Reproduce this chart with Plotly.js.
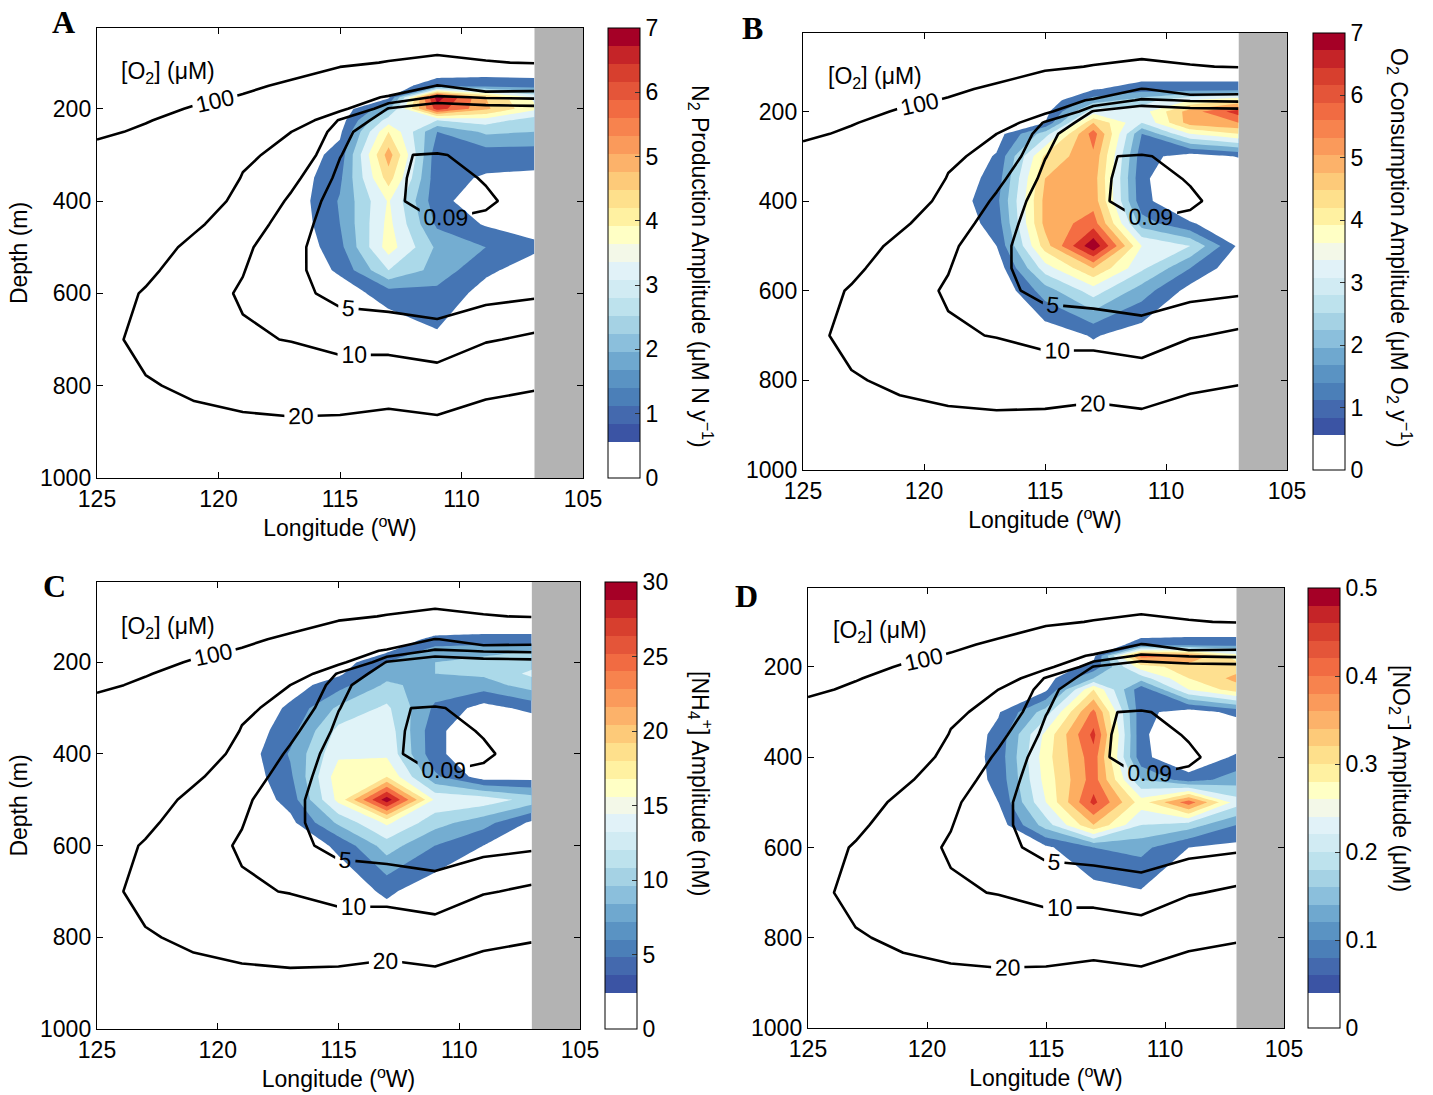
<!DOCTYPE html>
<html>
<head>
<meta charset="utf-8">
<script src="https://cdn.plot.ly/plotly-3.0.1.min.js"></script>
<style>
  html, body { margin: 0; padding: 0; background: #ffffff; }
  #chart { width: 1433px; height: 1095px; }
</style>
</head>
<body>
<div id="chart"></div>
<script>
// ---- section grid ----
const lonGrid = [125, 123, 121, 119, 117, 115, 113, 111, 109, 107];
const depthGrid = [25, 100, 150, 175, 200, 225, 250, 300, 350, 400, 450, 500, 550, 600, 700, 800, 900, 1000];

// dissolved oxygen (uM), rows = depth, columns = longitude
const o2Conc = [
  [200, 190, 180, 170, 160, 150, 140, 135, 130, 125],
  [180, 170, 150, 135, 120, 108, 98, 90, 98, 102],
  [160, 145, 125, 108, 93, 65, 50, 19, 30, 28],
  [150, 130, 110, 97, 70, 40, 16, 9, 10.5, 11],
  [135, 115, 96, 85, 45, 23, 4.5, 1.0, 2.5, 3],
  [122, 103, 83, 70, 30, 9, 2.5, 0.8, 1.2, 1.5],
  [110, 92, 70, 55, 20, 6.5, 1.0, 0.5, 0.6, 0.9],
  [80, 65, 50, 23, 15, 5.2, 0.12, 0.06, 0.2, 0.4],
  [60, 50, 38, 19, 11.5, 3.8, 0.12, 0.04, 0.1, 0.25],
  [45, 38, 28, 16, 9, 2.5, 0.12, 0.03, 0.07, 0.15],
  [38, 31, 22, 13, 7.5, 2.0, 0.3, 0.1, 0.12, 0.25],
  [33, 26, 17, 11, 6.5, 1.6, 0.6, 0.2, 0.3, 0.5],
  [30, 22.5, 14, 10.2, 6.2, 2.3, 1.5, 0.9, 1.2, 1.8],
  [26, 19, 12, 9.5, 6.5, 3.5, 3, 2.5, 3.5, 4.2],
  [26, 15, 11, 10.6, 9.8, 8.5, 8, 7, 9.5, 11],
  [29, 21.5, 17, 16, 14, 13, 14, 13, 17, 19],
  [35, 30, 26, 23, 23, 24, 26, 24, 27, 28],
  [42, 38, 34, 30, 30, 32, 34, 32, 35, 36]
];

// N2 production amplitude (uM N / y)
const n2Production = [
  [0, 0, 0, 0, 0, 0, 0, 0, 0, 0],
  [0, 0, 0, 0, 0, 0, 0, 0, 0, 0],
  [0, 0, 0, 0, 0, 0, 0.35, 1.05, 1.12, 1.05],
  [0, 0, 0, 0, 0, 0, 0.56, 7.35, 4.9, 3.36],
  [0, 0, 0, 0, 0, 0.21, 1.96, 6.65, 5.04, 3.64],
  [0, 0, 0, 0, 0, 0.35, 3.15, 2.8, 3.15, 2.45],
  [0, 0, 0, 0, 0, 0.56, 4.2, 1.4, 2.24, 2.1],
  [0, 0, 0, 0, 0.14, 0.98, 5.25, 0.91, 0.98, 0.98],
  [0, 0, 0, 0, 0.21, 1.26, 4.55, 0.91, 0.63, 0.56],
  [0, 0, 0, 0, 0.21, 1.47, 3.57, 0.91, 0.28, 0.21],
  [0, 0, 0, 0, 0.14, 1.4, 3.71, 1.26, 0.63, 0.42],
  [0, 0, 0, 0, 0, 1.19, 3.85, 1.96, 1.4, 0.84],
  [0, 0, 0, 0, 0, 0.84, 2.8, 1.82, 0.84, 0.35],
  [0, 0, 0, 0, 0, 0.28, 1.05, 1.19, 0.42, 0],
  [0, 0, 0, 0, 0, 0, 0, 0.56, 0, 0],
  [0, 0, 0, 0, 0, 0, 0, 0, 0, 0],
  [0, 0, 0, 0, 0, 0, 0, 0, 0, 0],
  [0, 0, 0, 0, 0, 0, 0, 0, 0, 0]
];

// O2 consumption amplitude (uM O2 / y)
const o2Consumption = [
  [0, 0, 0, 0, 0, 0, 0, 0, 0, 0],
  [0, 0, 0, 0, 0, 0, 0, 0, 0, 0],
  [0, 0, 0, 0, 0, 0, 0.63, 1.05, 1.05, 1.05],
  [0, 0, 0, 0, 0, 0.14, 1.75, 2.45, 3.5, 4.2],
  [0, 0, 0, 0, 0, 0.42, 3.15, 3.15, 5.25, 6.65],
  [0, 0, 0, 0, 0.14, 0.7, 4.9, 2.8, 5.25, 5.6],
  [0, 0, 0, 0, 0.35, 2.45, 5.95, 1.4, 3.5, 4.2],
  [0, 0, 0, 0, 0.77, 4.34, 5.46, 0.98, 0.35, 0.75],
  [0, 0, 0, 0.14, 0.98, 4.9, 5.25, 0.84, 0, 0],
  [0, 0, 0, 0.21, 1.19, 5.11, 5.32, 0.91, 0, 0],
  [0, 0, 0, 0.14, 0.98, 5.11, 5.95, 1.75, 0.77, 0.21],
  [0, 0, 0, 0, 0.7, 4.55, 7.56, 3.5, 2.8, 0.56],
  [0, 0, 0, 0, 0.21, 3.15, 4.9, 2.94, 1.4, 0.14],
  [0, 0, 0, 0, 0, 1.75, 3.15, 1.75, 0.42, 0],
  [0, 0, 0, 0, 0, 0.21, 0.77, 0.28, 0, 0],
  [0, 0, 0, 0, 0, 0, 0, 0, 0, 0],
  [0, 0, 0, 0, 0, 0, 0, 0, 0, 0],
  [0, 0, 0, 0, 0, 0, 0, 0, 0, 0]
];

// ammonium amplitude (nM)
const nh4Amplitude = [
  [0, 0, 0, 0, 0, 0, 0, 0, 0, 0],
  [0, 0, 0, 0, 0, 0, 0, 0, 0, 0],
  [0, 0, 0, 0, 0, 0, 1.5, 3.6, 3.9, 3.9],
  [0, 0, 0, 0, 0, 0, 2.4, 7.5, 8.4, 9],
  [0, 0, 0, 0, 0, 1.2, 6, 9, 9.6, 10.8],
  [0, 0, 0, 0, 0.6, 2.4, 7.8, 9, 9.6, 12.6],
  [0, 0, 0, 0, 1.5, 4.8, 9.6, 7.8, 7.5, 10.5],
  [0, 0, 0, 0, 3.6, 9.6, 12.6, 5.4, 1.8, 3.9],
  [0, 0, 0, 0.6, 4.8, 12.9, 13.8, 3.9, 0, 0],
  [0, 0, 0, 0.9, 6.3, 14.4, 14.4, 3.9, 0, 0],
  [0, 0, 0, 0.6, 5.4, 16.8, 18, 6.6, 1.5, 1.8],
  [0, 0, 0, 0, 4.2, 15.9, 31.8, 14.4, 13.8, 10.8],
  [0, 0, 0, 0, 2.1, 9.6, 15.6, 10.2, 7.2, 2.4],
  [0, 0, 0, 0, 0.6, 3.6, 10.5, 6, 3, 0.9],
  [0, 0, 0, 0, 0, 0.9, 3.6, 0.9, 0, 0],
  [0, 0, 0, 0, 0, 0, 0, 0, 0, 0],
  [0, 0, 0, 0, 0, 0, 0, 0, 0, 0],
  [0, 0, 0, 0, 0, 0, 0, 0, 0, 0]
];

// nitrite amplitude (uM)
const no2Amplitude = [
  [0, 0, 0, 0, 0, 0, 0, 0, 0, 0],
  [0, 0, 0, 0, 0, 0, 0, 0, 0, 0],
  [0, 0, 0, 0, 0, 0, 0.01, 0.07, 0.075, 0.075],
  [0, 0, 0, 0, 0, 0, 0.035, 0.425, 0.4, 0.275],
  [0, 0, 0, 0, 0, 0.01, 0.07, 0.275, 0.325, 0.325],
  [0, 0, 0, 0, 0, 0.025, 0.15, 0.175, 0.3, 0.365],
  [0, 0, 0, 0, 0.01, 0.04, 0.3, 0.065, 0.25, 0.325],
  [0, 0, 0, 0, 0.045, 0.175, 0.415, 0.065, 0.025, 0.065],
  [0, 0, 0, 0, 0.065, 0.265, 0.465, 0.06, 0, 0],
  [0, 0, 0, 0, 0.07, 0.28, 0.43, 0.065, 0, 0.06],
  [0, 0, 0, 0, 0.065, 0.27, 0.425, 0.15, 0.075, 0.125],
  [0, 0, 0, 0, 0.05, 0.25, 0.465, 0.275, 0.43, 0.225],
  [0, 0, 0, 0, 0.02, 0.175, 0.35, 0.2, 0.175, 0.1],
  [0, 0, 0, 0, 0, 0.04, 0.1, 0.115, 0.05, 0.035],
  [0, 0, 0, 0, 0, 0, 0.03, 0.045, 0, 0],
  [0, 0, 0, 0, 0, 0, 0, 0, 0, 0],
  [0, 0, 0, 0, 0, 0, 0, 0, 0, 0],
  [0, 0, 0, 0, 0, 0, 0, 0, 0, 0]
];

// oxygen isolines drawn over every panel
const o2Levels = [0.09, 5, 10, 20, 100];
const coastLon = 107;
const lonTicks = [125, 120, 115, 110, 105];
const depthTicks = [200, 400, 600, 800, 1000];
const n2Ticks = [0, 1, 2, 3, 4, 5, 6, 7];
const o2ConsTicks = [0, 1, 2, 3, 4, 5, 6, 7];
const nh4Ticks = [0, 5, 10, 15, 20, 25, 30];
const no2Ticks = [0, 0.1, 0.2, 0.3, 0.4, 0.5];

// ---- styling ----
const FONT = 'Liberation Sans, Arial, Helvetica, sans-serif';
const SERIF = 'Liberation Serif, Times New Roman, serif';
const W = 1433, H = 1095;
const fx = v => v / W;
const fy = v => 1 - v / H;

// coarse fill classes (white + 10 RdYlBu classes)
const fillPalette = ['#ffffff', '#4575b4', '#74add1', '#abd9e9', '#e0f3f8', '#ffffbf',
                     '#fee090', '#fdae61', '#f46d43', '#d73027', '#a50026'];
const fillScale = [];
fillPalette.forEach((c, i) => {
  const lo = i === 0 ? 0 : (i - 0.5) / 10;
  const hi = i === fillPalette.length - 1 ? 1 : (i + 0.5) / 10;
  fillScale.push([lo, c], [hi, c]);
});

// colour bar scale: 25 steps, two lowest white
const barPalette = ['#3b54a4', '#4469ae', '#4b7fb8', '#5a93c3', '#6fa8cf', '#8bbfdc', '#a5d2e4',
                    '#bde2ed', '#d1ebf3', '#e1f2f8', '#f3f8e8', '#ffffc5', '#fff1a1', '#fee08c',
                    '#fdca79', '#fcb26a', '#fa9a5b', '#f7834e', '#f16b42', '#e45539', '#d73f2e',
                    '#c52428', '#a50026'];
const barScale = [[0, '#ffffff'], [2 / 25, '#ffffff']];
barPalette.forEach((c, i) => {
  barScale.push([(2 + i) / 25, c], [(3 + i) / 25, c]);
});

const panels = [
  { field: n2Production, max: 7, ticks: n2Ticks, box: [97, 583, 28, 478], bar: [608, 28, 450],
    letter: 'A', letterAt: [63, 22], tagAt: [119, 73], depthTitle: true,
    barTitle: 'N<sub>2</sub> Production Amplitude (μM N y<sup>−1</sup>)', barTitleAt: [701, 266] },
  { field: o2Consumption, max: 7, ticks: o2ConsTicks, box: [803, 1287, 33, 470], bar: [1313, 33, 437],
    letter: 'B', letterAt: [752, 28], tagAt: [826, 77], depthTitle: false,
    barTitle: 'O<sub>2</sub> Consumption Amplitude (μM O<sub>2</sub> y<sup>−1</sup>)', barTitleAt: [1400, 248] },
  { field: nh4Amplitude, max: 30, ticks: nh4Ticks, box: [97, 580, 582, 1029], bar: [605, 582, 447],
    letter: 'C', letterAt: [54, 586], tagAt: [119, 627], depthTitle: true,
    barTitle: '[NH<sub>4</sub><sup>+</sup>] Amplitude (nM)', barTitleAt: [701, 783] },
  { field: no2Amplitude, max: 0.5, ticks: no2Ticks, box: [808, 1284, 588, 1028], bar: [1308, 588, 440],
    letter: 'D', letterAt: [746, 596], tagAt: [831, 631], depthTitle: false,
    barTitle: '[NO<sub>2</sub><sup>−</sup>] Amplitude (μM)', barTitleAt: [1402, 778] }
];

const traces = [];
const layout = {
  width: W, height: H,
  margin: { l: 0, r: 0, t: 0, b: 0, pad: 0 },
  paper_bgcolor: '#ffffff', plot_bgcolor: '#ffffff',
  showlegend: false,
  font: { family: FONT, size: 23, color: '#000' },
  annotations: [], shapes: []
};

panels.forEach((p, i) => {
  const n = i === 0 ? '' : String(i + 1);
  const xa = 'x' + n, ya = 'y' + n;
  const step = p.max / 10;

  // invisible copy of the field carrying the stepped colour bar
  traces.push({
    type: 'heatmap', x: lonGrid, y: depthGrid, z: p.field,
    zmin: 0, zmax: p.max, colorscale: barScale, opacity: 0,
    hoverinfo: 'skip', xaxis: xa, yaxis: ya, showscale: true,
    colorbar: {
      x: fx(p.bar[0]), xanchor: 'left', xref: 'paper',
      y: fy(p.bar[1]), yanchor: 'top', yref: 'paper',
      len: p.bar[2], lenmode: 'pixels',
      thickness: 32, thicknessmode: 'pixels',
      xpad: 0, ypad: 0,
      outlinewidth: 1, outlinecolor: '#000',
      tickvals: p.ticks, ticks: 'inside', ticklen: 5, tickcolor: '#333',
      tickfont: { family: FONT, size: 23, color: '#000' }
    }
  });

  // filled amplitude field
  traces.push({
    type: 'contour', x: lonGrid, y: depthGrid, z: p.field,
    autocontour: false,
    contours: { start: step, end: p.max, size: step, coloring: 'fill', showlines: false },
    colorscale: fillScale, showscale: false,
    line: { width: 0, smoothing: 0 },
    hoverinfo: 'skip', xaxis: xa, yaxis: ya
  });

  // labelled oxygen isolines
  o2Levels.forEach(lv => {
    traces.push({
      type: 'contour', x: lonGrid, y: depthGrid, z: o2Conc,
      autocontour: false,
      contours: {
        start: lv, end: lv, size: 1, coloring: 'none', showlabels: true,
        labelfont: { family: FONT, size: 23, color: '#000' }
      },
      line: { color: '#000', width: 2.6, smoothing: 0 },
      showscale: false, hoverinfo: 'skip', xaxis: xa, yaxis: ya
    });
  });

  layout['xaxis' + n] = {
    domain: [fx(p.box[0]), fx(p.box[1])], anchor: ya,
    range: [125, 105], tickvals: lonTicks,
    ticks: 'inside', ticklen: 6, tickcolor: '#000', mirror: 'ticks',
    showline: true, linecolor: '#000', linewidth: 1.2,
    showgrid: false, zeroline: false,
    tickfont: { family: FONT, size: 23, color: '#000' },
    title: { text: 'Longitude (<sup>o</sup>W)', font: { family: FONT, size: 23, color: '#000' }, standoff: 3 }
  };
  const yAxis = {
    domain: [fy(p.box[3]), fy(p.box[2])], anchor: xa,
    range: [1000, 25], tickvals: depthTicks,
    ticks: 'inside', ticklen: 6, tickcolor: '#000', mirror: 'ticks',
    showline: true, linecolor: '#000', linewidth: 1.2,
    showgrid: false, zeroline: false,
    tickfont: { family: FONT, size: 23, color: '#000' }
  };
  if (p.depthTitle) {
    yAxis.title = { text: 'Depth (m)', font: { family: FONT, size: 23, color: '#000' }, standoff: 6 };
  }
  layout['yaxis' + n] = yAxis;

  // land band east of the coast
  layout.shapes.push({
    type: 'rect', xref: xa, yref: ya + ' domain',
    x0: coastLon, x1: 105, y0: 0, y1: 1,
    fillcolor: '#b3b3b3', line: { width: 0 }, layer: 'below'
  });

  layout.annotations.push({
    text: '<b>' + p.letter + '</b>', xref: 'paper', yref: 'paper',
    x: fx(p.letterAt[0]), y: fy(p.letterAt[1]), xanchor: 'center', yanchor: 'middle',
    showarrow: false, font: { family: SERIF, size: 32, color: '#000' }
  });
  layout.annotations.push({
    text: '[O<sub>2</sub>] (μM)', xref: 'paper', yref: 'paper',
    x: fx(p.tagAt[0]), y: fy(p.tagAt[1]), xanchor: 'left', yanchor: 'middle',
    showarrow: false, font: { family: FONT, size: 23, color: '#000' }
  });
  layout.annotations.push({
    text: p.barTitle, xref: 'paper', yref: 'paper', textangle: 90,
    x: fx(p.barTitleAt[0]), y: fy(p.barTitleAt[1]), xanchor: 'center', yanchor: 'middle',
    showarrow: false, font: { family: FONT, size: 23, color: '#000' }
  });
});

Plotly.newPlot('chart', traces, layout, { staticPlot: true, displayModeBar: false });
</script>
</body>
</html>
